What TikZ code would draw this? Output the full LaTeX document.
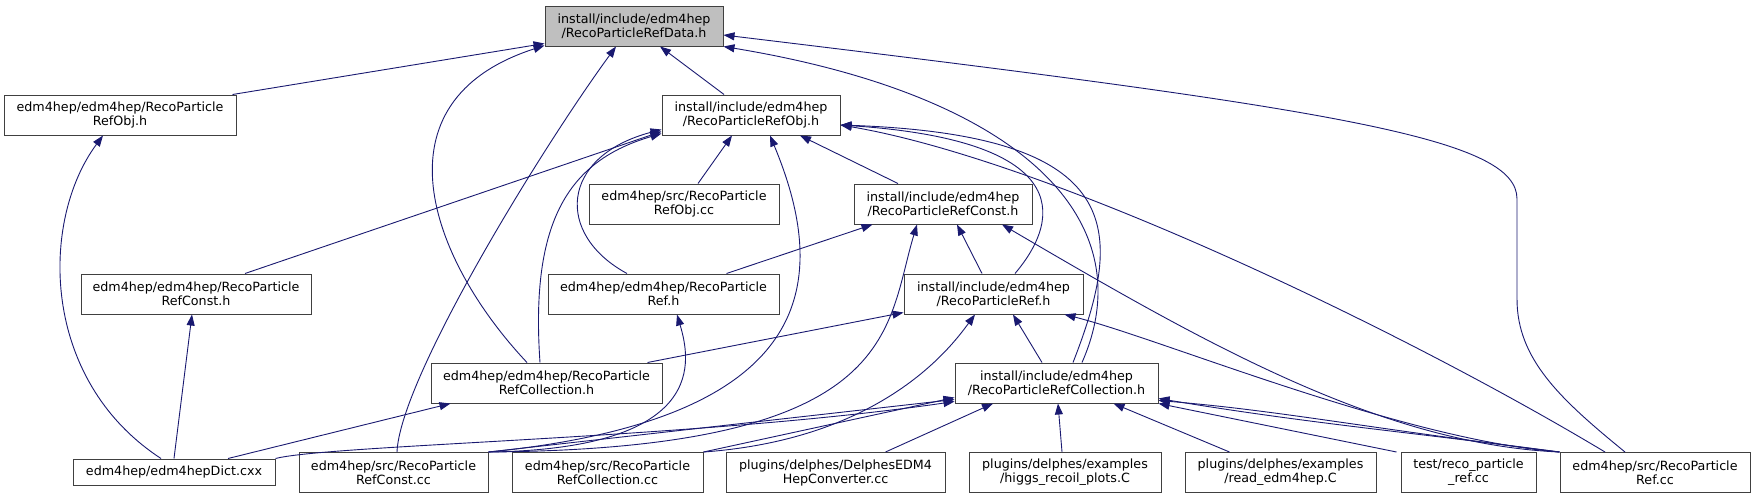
\documentclass[tikz,border=0pt]{standalone}
\usepackage{fontspec}
\setmainfont{DejaVu Sans}
\usepackage{tikz}
\usetikzlibrary{arrows.meta}
\definecolor{depblue}{RGB}{25,25,112}
\definecolor{boxgray}{RGB}{191,191,191}

\begin{document}
\begin{tikzpicture}[x=1pt,y=-1pt,
  file/.style={draw=black!75,line width=1pt,fill=white,minimum height=40pt,
    inner sep=0pt,align=center,font=\fontsize{12.7}{14}\selectfont},
  dep/.style={depblue,line width=0.9pt,-{Triangle[length=11pt,width=8pt]}}]
\useasboundingbox (0,0) rectangle (1755,499);
% Header rows
\node[file,fill=boxgray,minimum width=178pt] (Data) at (634,26) {install/include/edm4hep\\/RecoParticleRefData.h};
\node[file,minimum width=232pt] (RefObjH) at (120,115) {edm4hep/edm4hep/RecoParticle\\RefObj.h};
\node[file,minimum width=178pt] (iObj) at (751,115) {install/include/edm4hep\\/RecoParticleRefObj.h};
\node[file,minimum width=190pt] (srcObj) at (684,204) {edm4hep/src/RecoParticle\\RefObj.cc};
\node[file,minimum width=178pt] (iConst) at (943,204) {install/include/edm4hep\\/RecoParticleRefConst.h};
\node[file,minimum width=230pt] (RefConstH) at (196,294) {edm4hep/edm4hep/RecoParticle\\RefConst.h};
\node[file,minimum width=231pt] (RefH) at (663.5,294) {edm4hep/edm4hep/RecoParticle\\Ref.h};
\node[file,minimum width=179pt] (iRef) at (993.5,294) {install/include/edm4hep\\/RecoParticleRef.h};
\node[file,minimum width=231pt] (CollH) at (546.5,383) {edm4hep/edm4hep/RecoParticle\\RefCollection.h};
\node[file,minimum width=203pt] (iColl) at (1056.5,383) {install/include/edm4hep\\/RecoParticleRefCollection.h};
% Sources
\node[file,minimum width=202pt,minimum height=26pt] (Dict) at (174,472) {edm4hep/edm4hepDict.cxx};
\node[file,minimum width=189pt] (srcConst) at (393.5,472.5) {edm4hep/src/RecoParticle\\RefConst.cc};
\node[file,minimum width=191pt] (srcColl) at (607.5,472.5) {edm4hep/src/RecoParticle\\RefCollection.cc};
\node[file,minimum width=219pt] (Delphes) at (835.5,472.5) {plugins/delphes/DelphesEDM4\\HepConverter.cc};
\node[file,minimum width=192pt] (higgs) at (1065,472.5) {plugins/delphes/examples\\/higgs\_recoil\_plots.C};
\node[file,minimum width=191pt] (read) at (1280.5,472.5) {plugins/delphes/examples\\/read\_edm4hep.C};
\node[file,minimum width=135pt] (test) at (1468.5,472.5) {test/reco\_particle\\\_ref.cc};
\node[file,minimum width=190pt] (srcRef) at (1655,472.5) {edm4hep/src/RecoParticle\\Ref.cc};
% Includes of the data header
\draw[dep] ([xshift=-4pt]RefObjH.north east) -- ([yshift=3pt]Data.south west);
\draw[dep] ([xshift=-27pt]iObj.north) -- ([xshift=26pt]Data.south);
\draw[dep] ([xshift=-19.5pt]CollH.north) .. controls +(-97,-103) and +(-173,56) .. ([yshift=1pt]Data.south west);
\draw[dep] ([xshift=3.5pt]srcConst.north) .. controls +(3,-73) and +(-76,104) .. ([xshift=-18pt]Data.south);
\draw[dep] ([xshift=25.5pt]iColl.north) .. controls +(63,-143) and +(297,49) .. (Data.south east);
\draw[dep] ([xshift=-30pt]srcRef.north) .. controls +(-65,-53) and +(0,60) .. ([xshift=-138pt,yshift=153pt]srcRef.north)
  -- ([xshift=-138pt,yshift=253pt]srcRef.north) .. controls +(0,-60) and +(623,75) .. ([yshift=-9pt]Data.east);
% Includes of the obj header
\draw[dep] ([xshift=14pt]srcObj.north) -- ([xshift=-19pt]iObj.south);
\draw[dep] ([xshift=-45pt]iConst.north) -- ([xshift=49pt]iObj.south);
\draw[dep] ([xshift=49pt]RefConstH.north) -- ([yshift=4pt]iObj.south west);
\draw[dep] ([xshift=-6.5pt]CollH.north) .. controls +(-10,-143) and +(-92,27) .. ([yshift=2pt]iObj.south west);
\draw[dep] ([xshift=-36.5pt]RefH.north) .. controls +(-72,-39) and +(-102,27) .. ([yshift=6pt]iObj.south west);
\draw[dep] (srcConst.north east) .. controls +(332,-33) and +(60,144) .. ([xshift=19pt]iObj.south);
\draw[dep] ([xshift=16.5pt]iColl.north) .. controls +(52,-133) and +(287,10) .. ([yshift=-10pt]iObj.east);
\draw[dep] ([xshift=21.5pt]iRef.north) .. controls +(50,-59) and +(227,15) .. ([yshift=-10pt]iObj.east);
\draw[dep] ([xshift=-50pt]srcRef.north) .. controls +(-205,-123) and +(207,35) .. ([yshift=-10pt]iObj.east);
% Const and ref headers
\draw[dep] ([xshift=63pt]RefH.north) -- ([xshift=19pt]iConst.south west);
\draw[dep] ([xshift=-11.5pt]iRef.north) -- ([xshift=14pt]iConst.south);
\draw[dep] (srcConst.north east) .. controls +(412,-3) and +(-32,106) .. ([xshift=-26pt]iConst.south);
\draw[dep] (srcRef.north west) .. controls +(-180,-8) and +(198,116) .. ([xshift=59pt]iConst.south);
\draw[dep] ([xshift=-15pt]CollH.north east) -- ([yshift=2pt]iRef.south west);
\draw[dep] ([xshift=-14.5pt]iColl.north) -- ([xshift=19.5pt]iRef.south);
\draw[dep] (srcColl.north east) .. controls +(178,-13) and +(-25,34) .. ([xshift=-18.5pt]iRef.south);
\draw[dep] (srcRef.north west) .. controls +(-160,-13) and +(96,24) .. ([xshift=-19pt]iRef.south east);
\draw[dep] (srcConst.north east) .. controls +(222,-3) and +(13,44) .. ([xshift=13.5pt]RefH.south);
% Dictionary
\draw[dep] ([xshift=-13pt]Dict.north) .. controls +(-121,-79) and +(-63,85) .. ([xshift=-17pt]RefObjH.south);
\draw[dep] (Dict.north) -- ([xshift=-4pt]RefConstH.south);
\draw[dep] ([xshift=54pt]Dict.north) -- ([xshift=20pt]CollH.south west);
\draw[dep] (Dict.north east) .. controls +(55,-14) and +(-255,37) .. ([yshift=2pt]iColl.south west);
% Collection header
\draw[dep] (srcConst.north east) -- ([yshift=4pt]iColl.south west);
\draw[dep] (srcColl.north east) -- ([yshift=6pt]iColl.south west);
\draw[dep] ([xshift=50pt]Delphes.north) -- ([xshift=-63.5pt]iColl.south);
\draw[dep] ([xshift=-3pt]higgs.north) -- ([xshift=1.5pt]iColl.south);
\draw[dep] ([xshift=-51pt]read.north) -- ([xshift=57pt]iColl.south);
\draw[dep] ([xshift=-4pt]test.north west) -- (iColl.south east);
\draw[dep] (srcRef.north west) .. controls +(-150,-20) and +(150,25) .. ([yshift=5pt]iColl.south east);
\draw[dep] (srcRef.north west) .. controls +(-200,-25) and +(120,10) .. ([yshift=3pt]iColl.south east);
\end{tikzpicture}
\end{document}
